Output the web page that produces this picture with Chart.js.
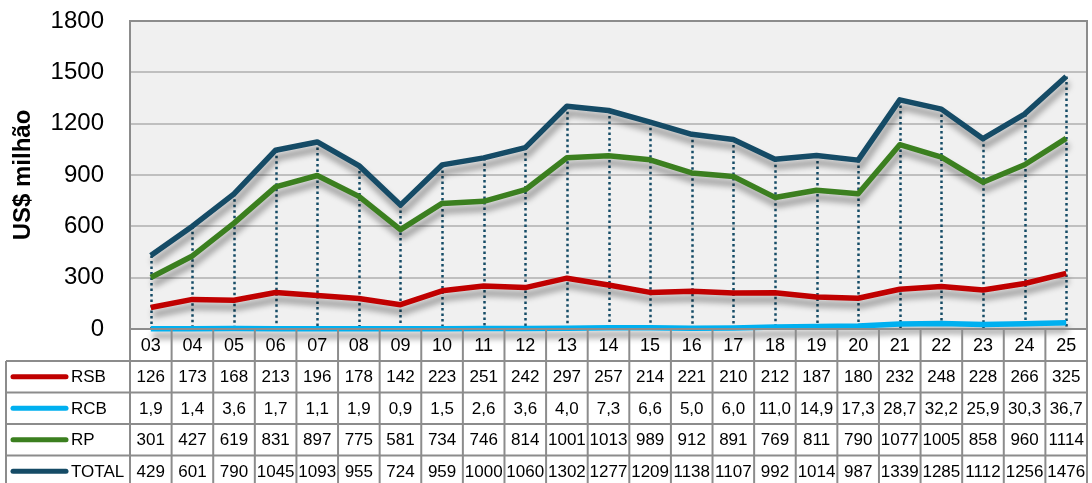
<!DOCTYPE html>
<html>
<head>
<meta charset="utf-8">
<script src="https://cdn.jsdelivr.net/npm/chart.js@4.4.0/dist/chart.umd.min.js"></script>
<style>
  html, body { margin: 0; padding: 0; background: #fff; }
  #wrap { width: 1092px; height: 483px; position: relative; }
</style>
</head>
<body>
<div id="wrap"><canvas id="chart" width="1092" height="483"></canvas></div>
<script>
const years = ['03','04','05','06','07','08','09','10','11','12','13','14','15','16','17','18','19','20','21','22','23','24','25'];
const rsb = [126,173,168,213,196,178,142,223,251,242,297,257,214,221,210,212,187,180,232,248,228,266,325];
const rcb = [1.9,1.4,3.6,1.7,1.1,1.9,0.9,1.5,2.6,3.6,4.0,7.3,6.6,5.0,6.0,11.0,14.9,17.3,28.7,32.2,25.9,30.3,36.7];
const rp = [301,427,619,831,897,775,581,734,746,814,1001,1013,989,912,891,769,811,790,1077,1005,858,960,1114];
const total = [429,601,790,1045,1093,955,724,959,1000,1060,1302,1277,1209,1138,1107,992,1014,987,1339,1285,1112,1256,1476];
const seriesNames = ['RSB', 'RCB', 'RP', 'TOTAL'];
const seriesDecimals = [0, 1, 0, 0];
const seriesColors = ['#c00000', '#00b0f0', '#3b7f1f', '#154b66'];
const yTicks = [0, 300, 600, 900, 1200, 1500, 1800];

const fmt = (v, d) => v.toFixed(d).replace('.', ',');

// fixed plot box, so the table underneath lines up with the columns
const fixArea = {
    id: 'fixArea',
    afterLayout(chart) {
        const a = chart.chartArea;
        a.top = 21; a.bottom = 329; a.left = 130; a.right = 1087;
        a.width = a.right - a.left; a.height = a.bottom - a.top;
        const y = chart.scales.y, x = chart.scales.x;
        y.top = a.top; y.bottom = a.bottom; y.height = a.height;
        y.right = a.left; y.left = 0; y.width = a.left;
        x.left = a.left; x.right = a.right; x.width = a.width;
        y.configure(); x.configure();
    }
};

const plotBg = {
    id: 'plotBg',
    beforeDraw(chart) {
        const { ctx, chartArea: a } = chart;
        ctx.save();
        ctx.fillStyle = '#f0f0f0';
        ctx.fillRect(a.left, a.top, a.right - a.left, a.bottom - a.top);
        ctx.restore();
    },
    beforeDatasetsDraw(chart) {
        // dotted drop lines from TOTAL down to the axis
        const { ctx, chartArea: a, scales } = chart;
        ctx.save();
        ctx.strokeStyle = '#154b66';
        ctx.lineWidth = 2.5;
        ctx.setLineDash([2.5, 3]);
        total.forEach((v, i) => {
            const x = Math.round(scales.x.getPixelForValue(i)) + 0.5;
            ctx.beginPath();
            ctx.moveTo(x, scales.y.getPixelForValue(v));
            ctx.lineTo(x, a.bottom);
            ctx.stroke();
        });
        ctx.restore();
    },
    beforeDatasetDraw(chart) {
        const ctx = chart.ctx;
        ctx.save();
        ctx.shadowColor = 'rgba(0,0,0,0.4)';
        ctx.shadowBlur = 6;
        ctx.shadowOffsetX = 2;
        ctx.shadowOffsetY = 7;
    },
    afterDatasetDraw(chart) {
        chart.ctx.restore();
    }
};

const dataTable = {
    id: 'dataTable',
    afterDraw(chart) {
        const { ctx, chartArea: a, scales } = chart;
        const colW = (a.right - a.left) / years.length;
        const headTop = a.bottom, headBot = 361;
        const rowH = 31.5;
        const rows = [rsb, rcb, rp, total];
        const tableLeft = 6;
        const bottom = headBot + rowH * rows.length;
        ctx.save();
        ctx.strokeStyle = '#8c8c8c';
        ctx.lineWidth = 2;
        // plot border
        ctx.strokeRect(a.left, a.top, a.right - a.left, a.bottom - a.top);
        // vertical lines
        for (let i = 0; i <= years.length; i++) {
            const x = a.left + i * colW;
            ctx.beginPath();
            ctx.moveTo(x, headTop);
            ctx.lineTo(x, bottom);
            ctx.stroke();
        }
        ctx.beginPath();
        ctx.moveTo(tableLeft, headBot);
        ctx.lineTo(tableLeft, bottom);
        ctx.stroke();
        // horizontal lines
        for (let r = 0; r <= rows.length; r++) {
            const y = headBot + r * rowH;
            ctx.beginPath();
            ctx.moveTo(tableLeft, y);
            ctx.lineTo(a.right, y);
            ctx.stroke();
        }
        // header
        ctx.fillStyle = '#000';
        ctx.textAlign = 'center';
        ctx.textBaseline = 'middle';
        ctx.font = '18px "Liberation Sans", Arial, sans-serif';
        years.forEach((y, i) => {
            ctx.fillText(y, scales.x.getPixelForValue(i), (headTop + headBot) / 2 + 1);
        });
        // rows
        rows.forEach((vals, r) => {
            const cy = headBot + r * rowH + rowH / 2 + 1;
            ctx.font = '17px "Liberation Sans", Arial, sans-serif';
            ctx.textAlign = 'center';
            vals.forEach((v, i) => {
                ctx.fillText(fmt(v, seriesDecimals[r]), scales.x.getPixelForValue(i), cy);
            });
            ctx.strokeStyle = seriesColors[r];
            ctx.lineWidth = 5;
            ctx.lineCap = 'round';
            ctx.beginPath();
            ctx.moveTo(13, cy - 1);
            ctx.lineTo(66, cy - 1);
            ctx.stroke();
            ctx.textAlign = 'left';
            ctx.fillText(seriesNames[r], 71, cy);
        });
        ctx.restore();
    }
};

new Chart(document.getElementById('chart').getContext('2d'), {
    type: 'line',
    data: {
        labels: years,
        datasets: [rsb, rcb, rp, total].map((d, i) => ({
            label: seriesNames[i],
            data: d,
            borderColor: seriesColors[i],
            backgroundColor: seriesColors[i],
            borderWidth: 5.5,
            pointRadius: 0,
            tension: 0,
            clip: false,
            borderJoinStyle: 'round'
        }))
    },
    options: {
        responsive: false,
        animation: false,
        devicePixelRatio: 1,
        layout: { padding: { left: 0, right: 5, top: 2, bottom: 154 } },
        plugins: { legend: { display: false }, tooltip: { enabled: false } },
        scales: {
            x: {
                offset: true,
                display: false
            },
            y: {
                min: 0,
                max: 1800,
                afterBuildTicks: s => { s.ticks = yTicks.map(v => ({ value: v })); },
                afterFit: s => { s.width = 130; },
                border: { display: false },
                grid: { color: '#bfbfbf', lineWidth: 2, drawTicks: false },
                ticks: {
                    padding: 26,
                    color: '#000',
                    callback: v => String(v),
                    font: { family: '"Liberation Sans", Arial, sans-serif', size: 24 }
                },
                title: {
                    display: true,
                    text: 'US$ milhão',
                    color: '#000',
                    padding: { top: 9, bottom: 0 },
                    font: { family: '"Liberation Sans", Arial, sans-serif', size: 24, weight: 'bold' }
                }
            }
        }
    },
    plugins: [fixArea, plotBg, dataTable]
});
</script>
</body>
</html>
